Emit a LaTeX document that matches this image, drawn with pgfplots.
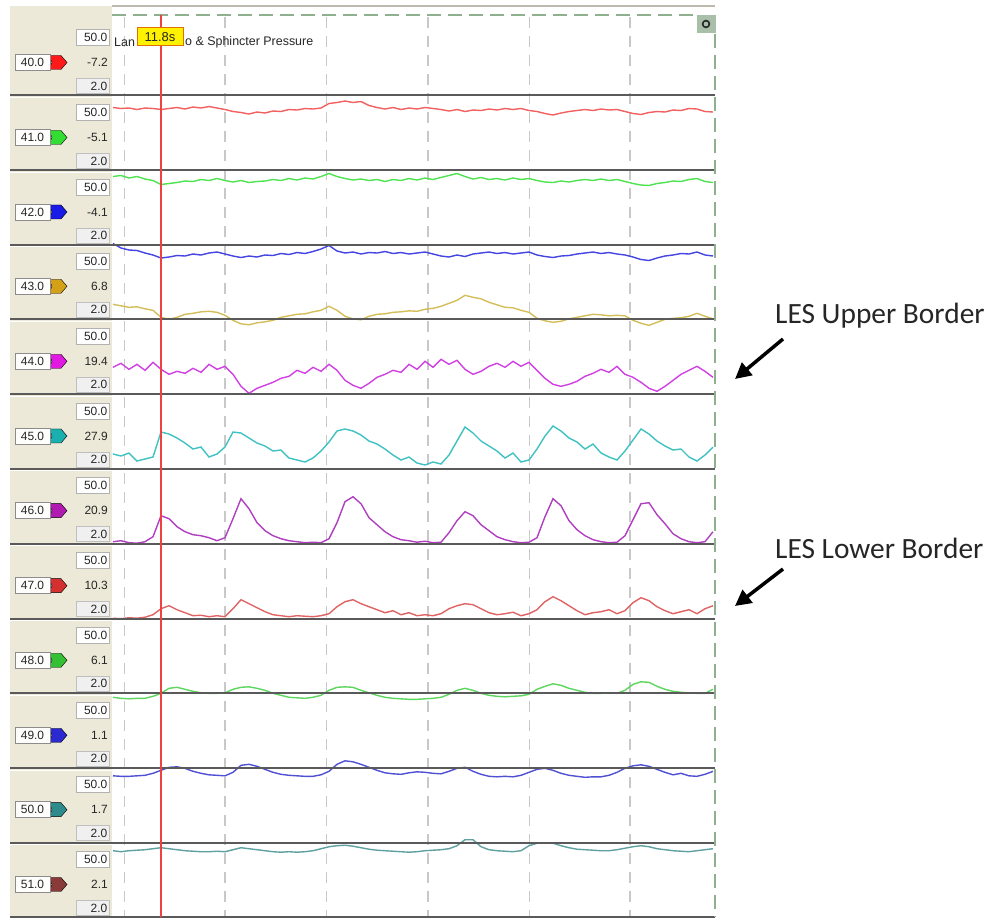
\documentclass[border=0pt]{standalone}
\usepackage{pgfplots}
\pgfplotsset{compat=1.18}
\usepackage{pgfplotstable}
\usetikzlibrary{arrows.meta}
\usepackage{fontspec}
\setmainfont{Liberation Sans}
\newfontfamily\calibri{Carlito}

\definecolor{beige}{HTML}{ECE9D8}
\definecolor{bandline}{HTML}{5A5A5A}
\definecolor{gridg}{HTML}{C8C8C8}
\definecolor{frameg}{HTML}{8FB08F}
\definecolor{btn}{HTML}{A9BFA9}
\definecolor{cursor}{HTML}{F04040}
\definecolor{tagedge}{HTML}{E07000}
\definecolor{m40}{HTML}{FF1A1A}
\definecolor{m41}{HTML}{33DD33}
\definecolor{m42}{HTML}{1A1AE6}
\definecolor{m43}{HTML}{D4A017}
\definecolor{m44}{HTML}{E01AE0}
\definecolor{m45}{HTML}{1AB0B0}
\definecolor{m46}{HTML}{B01AB0}
\definecolor{m47}{HTML}{D43030}
\definecolor{m48}{HTML}{33C033}
\definecolor{m49}{HTML}{2A2AD0}
\definecolor{m50}{HTML}{2E8B8B}
\definecolor{m51}{HTML}{8B3A3A}
\definecolor{t40}{HTML}{F26060}
\definecolor{t41}{HTML}{50E350}
\definecolor{t42}{HTML}{4545E3}
\definecolor{t43}{HTML}{D4BE5A}
\definecolor{t44}{HTML}{D040E3}
\definecolor{t45}{HTML}{40C2C2}
\definecolor{t46}{HTML}{B040C0}
\definecolor{t47}{HTML}{E06464}
\definecolor{t48}{HTML}{5CD65C}
\definecolor{t49}{HTML}{5050D3}
\definecolor{t50}{HTML}{5FA0A0}

% x: pixel column; a..k: trace height (px) above each channel's baseline
\pgfplotstableread{
x a b c d e f g h i j k
113 -12 -6 1.5 15 27 15 2 0.5 -4 -7.5 -8
121 -13 -5 -3 13.5 31 13 3 0 -5 -8 -9
129 -12.5 -7.5 -5 12 25 16 1 1 -5.5 -8 -8
137 -14 -6 -5.5 12.5 30 8 0.5 0.5 -5 -7.5 -7.5
145 -12.5 -8.5 -8 10.5 24 10 2 1.5 -5 -7 -7
153 -13 -10 -10 9 32 12 7 4 -3 -5 -6
161 -14 -14 -13 2 25 37 28 10 0 -2 -5
169 -13 -13 -12 0 20 35 25 13 5 1 -6
177 -12 -12 -10.5 2 23 31 17 9 6 1.5 -7
185 -13.5 -10.5 -11 5 21 26 12 6 4 0 -8
193 -11.5 -11 -9 6 26 20 9 3 2 -3 -8.5
201 -12.5 -9 -10 7.5 22 22 8 3.5 0.5 -5 -9
209 -11 -10 -8 8 30 12 6 2 0 -6.5 -9
217 -12.5 -8 -7 7 25 15 3 3 0 -7 -8.5
225 -14 -10 -9 4 28 22 6 2 0.5 -7.5 -9
233 -16 -11.5 -11 -1 20 37 25 10 4 -4 -7
241 -17 -10 -12.5 -4.5 8 36 45 19 6 3 -5
249 -18.5 -12 -11 -5.5 1 31 35 15 6.5 4 -6
257 -16.5 -11 -12 -3.5 6 26 21 11 5 2 -7
265 -17.5 -10.5 -10 -2.5 9 23 13 7 3 -1 -8
273 -15.5 -9 -10.5 -1 12 18 8 4 0 -4 -9
281 -16 -10 -8.5 2 16 19 5 3 -2 -6 -9.5
289 -14 -8 -9.5 3.5 18 11 3 2 -4 -7 -9
297 -14.5 -9.5 -7.5 5 24 9 2 3 -4.5 -7.5 -9.5
305 -13 -7.5 -8.5 5.5 21 7 1 2.5 -5 -8 -9
313 -13.5 -8.5 -6.5 7.5 27 11 1.5 2 -4 -8 -8
321 -12.5 -6 -4 9 23 18 1 3 -2 -6.5 -6
329 -8 -3 -0.5 13 30 27 5 5 3 -3 -4
337 -7 -6 -6 9 24 38 21 12 6 4 -3
345 -5.5 -8 -8 3 14 40 42 17 6.5 7.5 -2.5
353 -7 -9.5 -7 0.5 9 38 47 19 6 6.5 -3.5
361 -6 -8.5 -9 -0.5 6 34 40 15 3 4 -5
369 -10 -10 -7.5 3 11 28 26 12 0.5 1 -6.5
377 -12 -9 -8 5 17 25 19 9 -2 -2 -7.5
385 -13.5 -11 -6.5 5.5 20 20 12 6 -4 -4.5 -8
393 -12 -9 -8.5 7 24 14 7 8 -5 -5.5 -8.5
401 -14 -10 -7.5 7.5 22 9 4 4 -5.5 -6 -9
409 -12.5 -8 -9 8.5 30 12 3 6 -6 -4.5 -9.5
417 -13.5 -9.5 -8 8 25 6 1.5 3 -6 -3.5 -9
425 -12 -7.5 -7 10 33 4 2.5 4 -5.5 -4 -8
433 -13 -9 -9 11 27 7 1 3 -5 -5 -7.5
441 -14 -7 -11 13 35 5 1.5 5 -4 -5.5 -7
449 -15.5 -5 -12 16 30 14 11 10 -1 -3 -6
457 -14 -3 -10 19 34 28 23 13 3 0 -3
465 -16 -6 -11.5 24 25 42 32 15 5 1 3
473 -14.5 -8.5 -9 22 20 36 28 14 3 -3 3
481 -15 -7 -8 20.5 23 28 19 10 0 -6 -4
489 -13.5 -9 -7 17 28 23 13 6 -2 -8 -7
497 -14.5 -8 -8.5 14.5 31 18 7 4 -3 -8.5 -8
505 -13 -9.5 -7.5 12 27 11 4 5 -3.5 -8 -8.5
513 -14 -7.5 -9 11.5 33 16 2 6.5 -3 -8.5 -9
521 -13 -9 -8 9 28 7 1 3 -2.5 -7 -8
529 -15 -8 -7 7 32 9 1.5 5 -1 -4 -3
537 -16 -10 -10 1 24 20 6 9 4 -1 -0.5
545 -18 -11.5 -11.5 -1.5 16 33 27 17 7 0 0
553 -19.5 -12 -12.5 -3 10 43 45 22 9.5 -2 -0.5
561 -17.5 -10.5 -11 -2 8 38 38 18 8 -5 -3
569 -16 -11.5 -10.5 0.5 10 31 23 13 5 -7 -5
577 -15 -10 -9 2 13 27 14 8 3 -8 -6.5
585 -14 -9 -8 3.5 18 20 8 4 1 -9 -7
593 -15 -10 -7 5 21 25 4 6 0 -8.5 -7.5
601 -13.5 -8.5 -8.5 4.5 25 16 2 7 0 -8.5 -8
609 -14.5 -10 -7.5 3.5 22 12 1 9 0.5 -7 -8
617 -14 -9 -9 4 28 9 1.5 5 0 -4 -7
625 -16 -11 -10 3.5 20 18 8 8 3 0 -5.5
633 -18 -13 -12 -1 17 29 24 16 9 2.5 -4
641 -19 -14.5 -14.5 -4 12 40 40 21 11.5 3.5 -3
649 -17 -15 -15.5 -6 6 35 41 18 11 2 -4
657 -16 -13 -13 -3 3 28 29 12 7 -1 -6
665 -16.5 -12 -11 0 8 23 20 8 4 -4 -7
673 -14.5 -10.5 -10 1 14 19 10 5 2 -6.5 -8
681 -15 -11 -8.5 1.5 20 20 5 7 1 -5 -8.5
689 -13 -9 -9 3 24 12 2 9 0.5 -7.5 -9
697 -13.5 -8 -7 6 28 8 1 5 0 -8 -8
705 -16 -11 -10 3 23 14 2 10 0 -6 -7
713 -16.5 -12 -11 0.5 17 22 12 13 4 -3 -6
}\traces

\begin{document}
\begin{tikzpicture}
% ---------- background, panel, grid (pixel coordinates) ----------
\begin{scope}[x=1bp,y=-1bp,shift={(0,920bp)}]
  \fill[white] (0,0) rectangle (1002,920);
  \fill[beige] (10,6) rectangle (112,917.5);
  \draw[color=beige!80!black,line width=1.5bp] (112,6) -- (715,6);
  \foreach \gx in {124.5,225,326.5,428,529.5,630}{
    \draw[gridg,line width=1.6bp,dash pattern=on 11bp off 8bp] (\gx,17) -- (\gx,917);
  }
\end{scope}

\begin{axis}[at={(0,0)},anchor=south west,scale only axis,
  width=1002bp,height=920bp,xmin=0,xmax=1002,ymin=0,ymax=920,
  y dir=reverse,hide axis,clip=false]
\addplot[t40,line width=1.4bp] table[x=x,y expr={95.5-\thisrow{a}}]{\traces};
\addplot[t41,line width=1.4bp] table[x=x,y expr={170.5-\thisrow{b}}]{\traces};
\addplot[t42,line width=1.4bp] table[x=x,y expr={245-\thisrow{c}}]{\traces};
\addplot[t43,line width=1.4bp] table[x=x,y expr={319.3-\thisrow{d}}]{\traces};
\addplot[t44,line width=1.4bp] table[x=x,y expr={394.3-\thisrow{e}}]{\traces};
\addplot[t45,line width=1.4bp] table[x=x,y expr={469-\thisrow{f}}]{\traces};
\addplot[t46,line width=1.4bp] table[x=x,y expr={543.7-\thisrow{g}}]{\traces};
\addplot[t47,line width=1.4bp] table[x=x,y expr={618.7-\thisrow{h}}]{\traces};
\addplot[t48,line width=1.4bp] table[x=x,y expr={693.3-\thisrow{i}}]{\traces};
\addplot[t49,line width=1.4bp] table[x=x,y expr={768.3-\thisrow{j}}]{\traces};
\addplot[t50,line width=1.4bp] table[x=x,y expr={842.7-\thisrow{k}}]{\traces};
\end{axis}

% ---------- overlays (pixel coordinates) ----------
\begin{scope}[x=1bp,y=-1bp,shift={(0,920bp)},
  lab/.style={font=\fontsize{12}{14}\selectfont,text=black!85,inner sep=0pt}]
  % band lines and left panel
  \foreach \yb/\chn/\val/\col in {95.5/40.0/-7.2/m40,170.5/41.0/-5.1/m41,245/42.0/-4.1/m42,
      319.3/43.0/6.8/m43,394.3/44.0/19.4/m44,469/45.0/27.9/m45,543.7/46.0/20.9/m46,
      618.7/47.0/10.3/m47,693.3/48.0/6.1/m48,768.3/49.0/1.1/m49,842.7/50.0/1.7/m50,917.5/51.0/2.1/m51}{
    \draw[bandline,line width=2bp] (10,\yb) -- (715,\yb);
    \draw[white,line width=1bp] (10,{\yb+2}) -- (112,{\yb+2});
    \filldraw[fill=white,draw=black!30,line width=0.8bp] (76,{\yb-66}) rectangle (109,{\yb-50});
    \node[lab,anchor=east] at (107.5,{\yb-58}) {50.0};
    \filldraw[fill=black!6,draw=black!25,line width=0.8bp] (76,{\yb-17}) rectangle (109,{\yb-2});
    \node[lab,anchor=east] at (107.5,{\yb-9.5}) {2.0};
    \node[lab,anchor=east] at (108,{\yb-33}) {\val};
    \filldraw[fill=\col] (49,{\yb-40}) -- (61,{\yb-40}) -- (67,{\yb-33}) -- (61,{\yb-26}) -- (49,{\yb-26}) -- (52,{\yb-33}) -- cycle;
    \filldraw[fill=white!96!beige,draw=black!45,line width=0.8bp] (15,{\yb-41}) rectangle (50,{\yb-25});
    \node[lab] at (32.5,{\yb-33}) {\chn};
  }
  % frame
  \draw[frameg,line width=1.8bp,dash pattern=on 14bp off 7bp] (112,15) -- (697,15);
  \draw[frameg,line width=1.8bp,dash pattern=on 14bp off 7bp] (715,34) -- (715,917);
  \fill[btn] (697,15) rectangle (716,33);
  \draw[black!85,line width=1.6bp] (706,24) circle (3.4bp);
  % title (partly hidden behind the time tag) and cursor
  \node[lab,anchor=west,font=\fontsize{12.5}{14}\selectfont] at (114,42) {Lan};
  \node[lab,anchor=west,font=\fontsize{12.5}{14}\selectfont] at (185,42) {o \& Sphincter Pressure};
  \draw[cursor,line width=1.6bp] (161,15) -- (161,917);
  \filldraw[fill=yellow,draw=tagedge,line width=1bp] (137,28) rectangle (183,46);
  \node[lab,font=\fontsize{13}{14}\selectfont] at (160,37) {11.8s};
  % annotations
  \node[anchor=west,inner sep=0pt,text=black!85,font=\calibri\fontsize{29.5}{31}\selectfont] at (775,316) {LES Upper Border};
  \node[anchor=west,inner sep=0pt,text=black!85,font=\calibri\fontsize{29.5}{31}\selectfont] at (775,548) {LES Lower Border};
  \draw[black,line width=3.5bp,-{Triangle[length=16bp,width=16bp]}] (783,339) -- (735,379);
  \draw[black,line width=3.5bp,-{Triangle[length=16bp,width=16bp]}] (783,569) -- (735,606);
\end{scope}
\end{tikzpicture}
\end{document}
